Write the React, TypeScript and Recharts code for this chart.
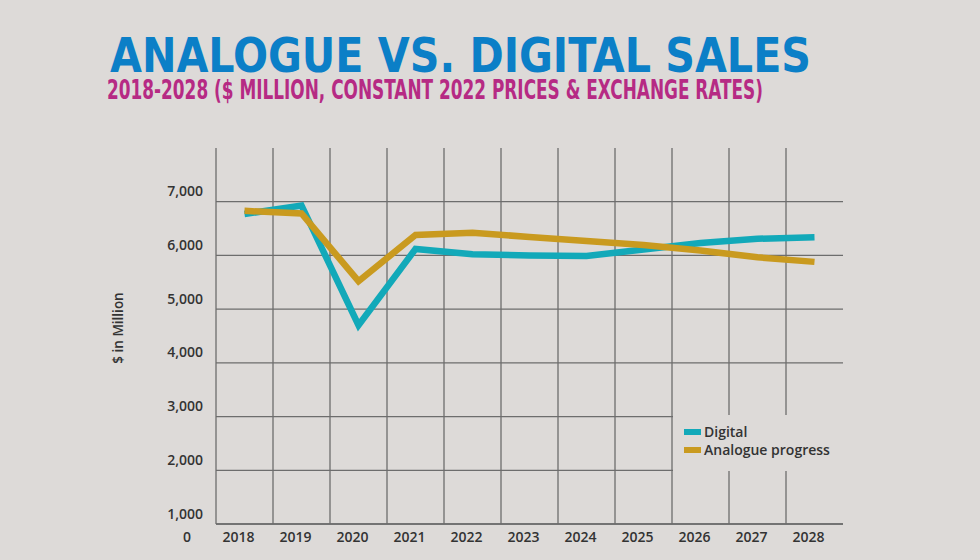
import { CartesianGrid, Legend, Line, LineChart, XAxis, YAxis } from "recharts"

// sales, $ million per year
const years = [2018, 2019, 2020, 2021, 2022, 2023, 2024, 2025, 2026, 2027, 2028]
const digitalSales = [6770, 6930, 4700, 6120, 6020, 6000, 5990, 6110, 6230, 6310, 6340]
const analogueSales = [6830, 6780, 5520, 6380, 6420, 6345, 6270, 6195, 6090, 5965, 5880]
const valueTicks = [1000, 2000, 3000, 4000, 5000, 6000, 7000]
const seriesOrder = ["digital", "analogue"]

const BG = "#dddad8"
const GRID = "#6d6d6d"
const TEAL = "#12a9b9"
const GOLD = "#c99a1f"
const TEXT = "#333333"
const FONT = "'Open Sans', 'DejaVu Sans', sans-serif"

const chartData = years.map((year, i) => ({
  year,
  digital: digitalSales[i],
  analogue: analogueSales[i],
}))

// vertical grid sits on the edges between the year bands
const bandEdges = years.map((y) => y - 0.5)

function ValueTick({ x, y, payload }: any) {
  return (
    <g>
      <text x={x} y={y - 11} textAnchor="end" dominantBaseline="central" fontFamily={FONT} fontSize={14} fontWeight={600} fill={TEXT}>
        {payload.value.toLocaleString("en-US")}
      </text>
      {payload.value === 1000 && (
        <text x={x - 16} y={y + 12} textAnchor="middle" dominantBaseline="central" fontFamily={FONT} fontSize={14} fontWeight={600} fill={TEXT}>
          0
        </text>
      )}
    </g>
  )
}

function YearTick({ x, y, payload }: any) {
  return (
    <text x={x - 6} y={y + 12} textAnchor="middle" dominantBaseline="central" fontFamily={FONT} fontSize={14} fontWeight={600} fill={TEXT}>
      {payload.value}
    </text>
  )
}

function AxisTitle({ viewBox }: any) {
  const cy = viewBox.y + viewBox.height / 2 - 8
  return (
    <text transform={`translate(118, ${cy}) rotate(-90)`} textAnchor="middle" dominantBaseline="central" fontFamily={FONT} fontSize={13.5} fontWeight={600} fill={TEXT}>
      $ in Million
    </text>
  )
}

function LegendBox({ payload }: any) {
  const items = [...(payload || [])].sort(
    (a: any, b: any) => seriesOrder.indexOf(a.dataKey) - seriesOrder.indexOf(b.dataKey)
  )
  return (
    <div style={{ paddingTop: 7.5, paddingLeft: 11 }}>
      {items.map((entry: any) => (
        <div key={entry.value} style={{ display: "flex", alignItems: "center", height: 18.3 }}>
          <span style={{ width: 17, height: 6, background: entry.color, marginRight: 3 }} />
          <span style={{ fontFamily: FONT, fontSize: 14, fontWeight: 600, color: TEXT, lineHeight: "18px" }}>{entry.value}</span>
        </div>
      ))}
    </div>
  )
}

export default function App() {
  return (
    <div style={{ position: "absolute", left: 0, top: 0, width: 980, height: 560, background: BG, overflow: "hidden" }}>
      <svg width={980} height={110} style={{ position: "absolute", left: 0, top: 0 }}>
        <text
          x={110}
          y={71.7}
          fontFamily="'Liberation Sans Narrow', 'DejaVu Sans Condensed', sans-serif"
          fontWeight={700}
          fontSize={48}
          fill="#0b7fc7"
          textLength={701}
          lengthAdjust="spacingAndGlyphs"
        >
          ANALOGUE VS. DIGITAL SALES
        </text>
        <text
          x={107}
          y={99}
          fontFamily="'Liberation Sans Narrow', 'DejaVu Sans Condensed', sans-serif"
          fontWeight={700}
          fontSize={26}
          fill="#b62a84"
          textLength={656}
          lengthAdjust="spacingAndGlyphs"
        >
          2018-2028 ($ MILLION, CONSTANT 2022 PRICES &amp; EXCHANGE RATES)
        </text>
      </svg>
      <LineChart width={980} height={560} data={chartData} margin={{ top: 148, right: 137, bottom: 0, left: 0 }}>
        <CartesianGrid xAxisId="edges" syncWithTicks stroke={GRID} strokeWidth={1.3} />
        <XAxis xAxisId="edges" dataKey="year" type="number" domain={[2017.5, 2028.5]} ticks={bandEdges} interval={0} height={0} hide />
        <XAxis
          xAxisId="years"
          dataKey="year"
          type="number"
          domain={[2017.5, 2028.5]}
          ticks={years}
          interval={0}
          height={36}
          tickLine={false}
          tickSize={0}
          tickMargin={0}
          axisLine={{ stroke: GRID, strokeWidth: 1.3 }}
          tick={<YearTick />}
        />
        <YAxis
          width={216}
          type="number"
          domain={[1000, 8000]}
          ticks={valueTicks}
          interval={0}
          axisLine={false}
          tickLine={false}
          tickSize={0}
          tickMargin={13}
          tick={<ValueTick />}
          label={{ content: <AxisTitle /> }}
        />
        <Legend
          layout="vertical"
          align="center"
          verticalAlign="middle"
          wrapperStyle={{ left: 673, top: 415, width: 172, height: 56, background: BG }}
          content={<LegendBox />}
        />
        <Line xAxisId="years" name="Digital" dataKey="digital" stroke={TEAL} strokeWidth={6.5} dot={false} isAnimationActive={false} />
        <Line xAxisId="years" name="Analogue progress" dataKey="analogue" stroke={GOLD} strokeWidth={6.5} dot={false} isAnimationActive={false} />
      </LineChart>
    </div>
  )
}
